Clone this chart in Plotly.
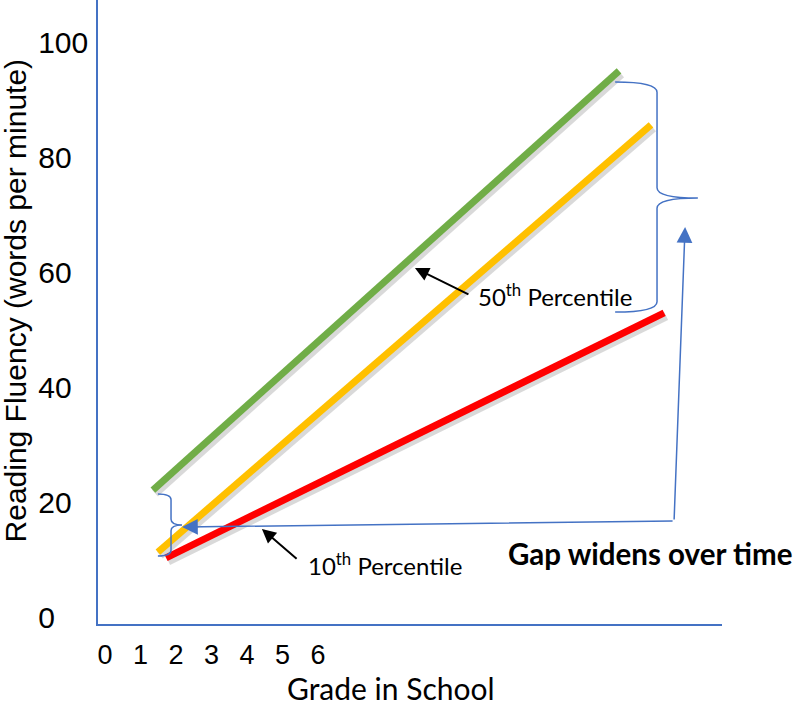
import plotly.graph_objects as go
import numpy as np

# ---------------- data ----------------
y_ticks = [0, 20, 40, 60, 80, 100]
x_ticks = [0, 1, 2, 3, 4, 5, 6]

top_x = [1.35, 14.48]
top_y = [22.6, 95.5]
mid_x = [1.49, 15.38]
mid_y = [11.8, 86.1]
low_x = [1.72, 15.75]
low_y = [10.8, 53.4]

series = [
    ("Upper", top_x, top_y, "#70AD47"),
    ("50th Percentile", mid_x, mid_y, "#FFC000"),
    ("10th Percentile", low_x, low_y, "#FF0000"),
]

BLUE = "#4472C4"
ARIAL = "Liberation Sans, Arial, sans-serif"
CAL = "Lato, Carlito, Calibri, sans-serif"

XR = [-0.197, 17.38]
YR = [-0.696, 107.83]
pxx = 624 / (XR[1] - XR[0])
pxy = 624 / (YR[1] - YR[0])
sdx, sdy = 2.0 / pxx, -3.0 / pxy

fig = go.Figure()

# drop shadows
for name, xs, ys, col in series:
    fig.add_trace(go.Scatter(
        x=np.array(xs) + sdx, y=np.array(ys) + sdy, mode="lines",
        line=dict(color="rgba(0,0,0,0.15)", width=9),
        hoverinfo="skip", showlegend=False))

for name, xs, ys, col in series:
    fig.add_trace(go.Scatter(
        x=xs, y=ys, mode="lines", name=name,
        line=dict(color=col, width=7), showlegend=False))

# y tick labels left-aligned (pad with non-breaking spaces)
maxlen = max(len(str(v)) for v in y_ticks)
ytext = [str(v) + "&nbsp;" * (2 * (maxlen - len(str(v)))) for v in y_ticks]


def brace(xe, xs, xt, yt, yb, yc, r):
    return (f"M {xe},{yt} Q {xs},{yt} {xs},{yt - r} "
            f"L {xs},{yc + r} Q {xs},{yc} {xt},{yc} "
            f"Q {xs},{yc} {xs},{yc - r} "
            f"L {xs},{yb + r} Q {xs},{yb} {xe},{yb}")


shapes = [
    dict(type="path", xref="x", yref="y",
         path=brace(14.37, 15.55, 16.70, 93.57, 53.57, 73.39, 1.8),
         line=dict(color=BLUE, width=1.5)),
    dict(type="path", xref="x", yref="y",
         path=brace(1.49, 1.86, 2.17, 21.91, 11.13, 16.52, 1.0),
         line=dict(color=BLUE, width=1.5)),
]

annotations = [
    # blue connector arrows
    dict(x=2.17, y=16.17, ax=16.03, ay=17.22, xref="x", yref="y",
         axref="x", ayref="y", text="", showarrow=True, arrowhead=2,
         arrowsize=2.1, arrowwidth=1.5, arrowcolor=BLUE),
    dict(x=16.34, y=68.35, ax=16.03, ay=17.22, xref="x", yref="y",
         axref="x", ayref="y", text="", showarrow=True, arrowhead=2,
         arrowsize=2.1, arrowwidth=1.5, arrowcolor=BLUE),
    # black pointer arrows
    dict(x=8.73, y=61.22, ax=10.28, ay=56.52, xref="x", yref="y",
         axref="x", ayref="y", text="", showarrow=True, arrowhead=2,
         arrowsize=1.4, arrowwidth=2, arrowcolor="black"),
    dict(x=4.42, y=15.83, ax=5.44, ay=10.43, xref="x", yref="y",
         axref="x", ayref="y", text="", showarrow=True, arrowhead=2,
         arrowsize=1.4, arrowwidth=2, arrowcolor="black"),
    # labels
    dict(x=10.45, y=56.52, xref="x", yref="y", xanchor="left", yanchor="middle",
         text="50<sup>th</sup> Percentile", showarrow=False,
         font=dict(family=CAL, size=24, color="black")),
    dict(x=5.66, y=9.74, xref="x", yref="y", xanchor="left", yanchor="middle",
         text="10<sup>th</sup> Percentile", showarrow=False,
         font=dict(family=CAL, size=24, color="black")),
    dict(x=11.3, y=11.65, xref="x", yref="y", xanchor="left", yanchor="middle",
         text="<b>Gap widens over time</b>", showarrow=False,
         font=dict(family=CAL, size=29.5, color="black")),
    # axis titles
    dict(x=-0.1325, y=0.519, xref="paper", yref="paper", xanchor="center",
         yanchor="middle", textangle=-90, showarrow=False,
         text="Reading Fluency (words per minute)",
         font=dict(family=ARIAL, size=30, color="black")),
    dict(x=0.4696, y=-0.1026, xref="paper", yref="paper", xanchor="center",
         yanchor="middle", showarrow=False, text="Grade in School",
         font=dict(family=CAL, size=30, color="black")),
]

fig.update_layout(
    width=801, height=713,
    margin=dict(l=98, r=79, t=0, b=89, autoexpand=False),
    paper_bgcolor="white", plot_bgcolor="white",
    shapes=shapes, annotations=annotations,
    xaxis=dict(range=XR, tickvals=x_ticks, ticktext=[str(v) for v in x_ticks],
               showgrid=False, zeroline=False, showline=True,
               linecolor=BLUE, linewidth=1.5, ticks="",
               ticklabelstandoff=6, automargin=False,
               tickfont=dict(family=ARIAL, size=27, color="black")),
    yaxis=dict(range=YR, tickvals=y_ticks, ticktext=ytext,
               showgrid=False, zeroline=False, showline=True,
               linecolor=BLUE, linewidth=1.5, ticks="",
               ticklabelstandoff=2, ticklabelshift=-3, automargin=False,
               tickfont=dict(family=ARIAL, size=30, color="black")),
)

fig.write_html("out.html",
               config={"displayModeBar": False},
               post_script="document.body.style.margin='0px';"
                           "document.body.style.padding='0px';")
